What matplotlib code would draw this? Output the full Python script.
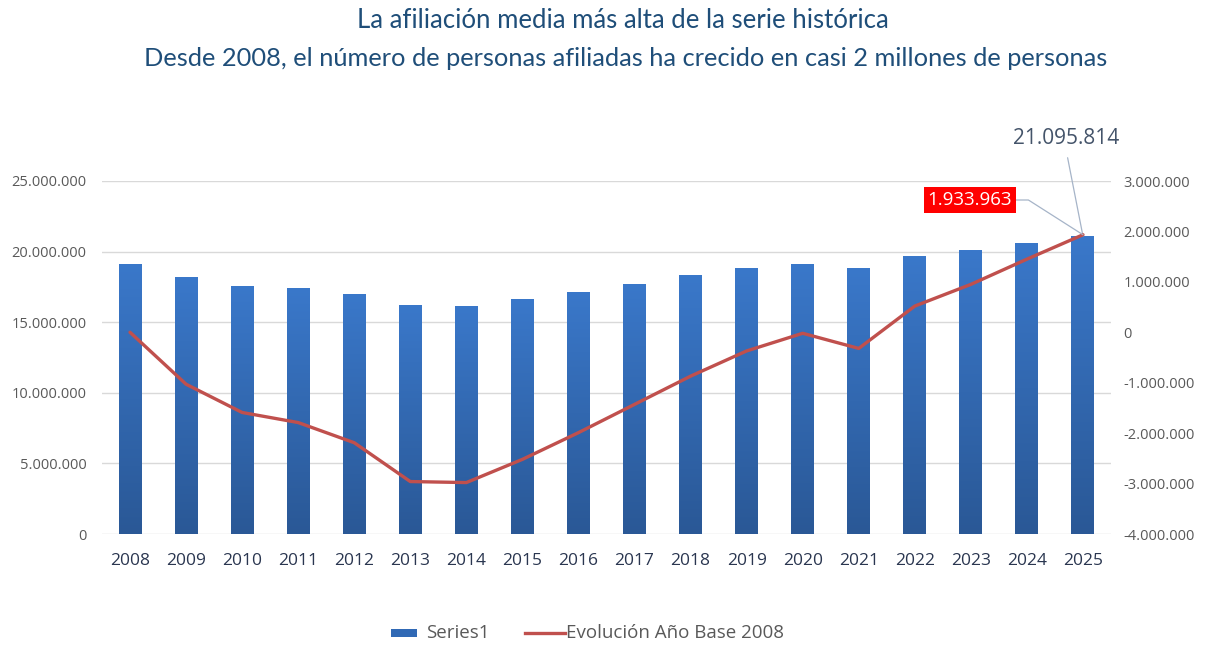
import numpy as np
import matplotlib
matplotlib.use("Agg")
import matplotlib.pyplot as plt
from matplotlib.colors import LinearSegmentedColormap
from matplotlib.ticker import FuncFormatter
from matplotlib.patches import Rectangle
from matplotlib.lines import Line2D

# --- datos ---
years = ["2008", "2009", "2010", "2011", "2012", "2013", "2014", "2015", "2016",
         "2017", "2018", "2019", "2020", "2021", "2022", "2023", "2024", "2025"]
afiliados = [19150000, 18180000, 17550000, 17400000, 16990000, 16195000, 16180000,
             16630000, 17140000, 17720000, 18310000, 18810000, 19150000, 18820000,
             19680000, 20080000, 20630000, 21095814]
evolucion = [0, -1030000, -1590000, -1790000, -2190000, -2960000, -2980000,
             -2520000, -1990000, -1430000, -870000, -370000, -20000, -320000,
             520000, 950000, 1450000, 1933963]
left_ticks = [0, 5000000, 10000000, 15000000, 20000000, 25000000]
right_ticks = [-4000000, -3000000, -2000000, -1000000, 0, 1000000, 2000000, 3000000]

TITLE_1 = "La afiliación media más alta de la serie histórica"
TITLE_2 = "Desde 2008, el número de personas afiliadas ha crecido en casi 2 millones de personas"
LEG_BAR = "Series1"
LEG_LINE = "Evolución Año Base 2008"

# colores
TITLE_C = "#1F4E79"
GRID_C = "#d9d9d9"
TICK_C = "#595959"
YEAR_C = "#2A3650"
LINE_C = "#C0504D"


def miles(v, pos=None):
    return f"{int(v):,}".replace(",", ".")


W, H = 1210, 647
fig = plt.figure(figsize=(W / 100, H / 100), dpi=100)
ax = fig.add_axes([102 / W, 1 - 534 / H, 1009 / W, 353 / H])
ax2 = ax.twinx()

x = np.arange(len(years))
bars = ax.bar(x, afiliados, width=0.41, color="none", zorder=2)

# degradado vertical en las barras
cmap = LinearSegmentedColormap.from_list("azul", ["#2A5896", "#3A78CA"])
grad = np.linspace(0, 1, 256).reshape(-1, 1)
for b in bars:
    x0, y0 = b.get_x(), b.get_y()
    w, h = b.get_width(), b.get_height()
    im = ax.imshow(grad, cmap=cmap, origin="lower", aspect="auto",
                   extent=[x0, x0 + w, y0, y0 + h], zorder=2)
    im.set_clip_path(b)

ax.set_xlim(-0.5, len(years) - 0.5)
ax.set_ylim(0, 25000000)
ax.set_yticks(left_ticks)
ax.yaxis.set_major_formatter(FuncFormatter(miles))
ax.set_xticks(x)
ax.set_xticklabels(years)
ax.grid(axis="y", color=GRID_C, linewidth=1, zorder=0)
ax.set_axisbelow(True)

ax2.plot(x, evolucion, color=LINE_C, linewidth=2.4, solid_capstyle="round",
         solid_joinstyle="round", zorder=3)
ax2.set_ylim(-4000000, 3000000)
ax2.set_yticks(right_ticks)
ax2.yaxis.set_major_formatter(FuncFormatter(miles))

for a in (ax, ax2):
    for s in a.spines.values():
        s.set_visible(False)
    a.tick_params(length=0)

ax.tick_params(axis="y", labelsize=10.5, labelcolor=TICK_C, pad=11)
ax.tick_params(axis="x", labelsize=12.5, labelcolor=YEAR_C, pad=14)
ax2.tick_params(axis="y", labelsize=10.5, labelcolor=TICK_C, pad=9)
for lab in ax.get_yticklabels() + ax2.get_yticklabels() + ax.get_xticklabels():
    lab.set_family("Open Sans")

# etiquetas del último año
ax2.annotate(miles(evolucion[-1]), xy=(x[-1], evolucion[-1]),
             xytext=(970 / W, 1 - 200 / H), textcoords="figure fraction",
             ha="center", va="center", color="white", fontsize=13.5, family="Open Sans",
             bbox=dict(boxstyle="square,pad=0.2", fc="#FF0000", ec="none"),
             arrowprops=dict(arrowstyle="-", color="#A6B4C8", lw=0.9,
                             shrinkA=0, shrinkB=0, relpos=(1, 0.5),
                             connectionstyle="angle,angleA=0,angleB=147.5,rad=0"),
             zorder=5)
ax.annotate(miles(afiliados[-1]), xy=(x[-1], afiliados[-1]),
            xytext=(1066 / W, 1 - 139 / H), textcoords="figure fraction",
            ha="center", va="center", color="#44546A", fontsize=15, family="Open Sans",
            arrowprops=dict(arrowstyle="-", color="#A6B4C8", lw=0.9,
                            shrinkA=4, shrinkB=0, relpos=(0.5, 0)),
            zorder=5)

# títulos
fig.text(623 / W, 1 - 21 / H, TITLE_1, ha="center", va="center",
         color=TITLE_C, fontsize=18.5, family="Lato")
fig.text(626 / W, 1 - 58 / H, TITLE_2, ha="center", va="center",
         color=TITLE_C, fontsize=18.3, family="Lato")

# leyenda (colocada a mano)
ly = 1 - 633 / H
fig.patches.append(Rectangle((391 / W, ly - 4 / H), 26 / W, 8 / H,
                             transform=fig.transFigure, facecolor="#3069B5",
                             edgecolor="none"))
fig.text(426 / W, ly, LEG_BAR, ha="left", va="center", color=TICK_C,
         fontsize=13.5, family="Open Sans")
fig.lines.append(Line2D([525 / W, 565 / W], [ly, ly], transform=fig.transFigure,
                        color=LINE_C, lw=2.4))
fig.text(566 / W, ly, LEG_LINE, ha="left", va="center", color=TICK_C,
         fontsize=13.5, family="Open Sans")

fig.savefig("out.png", dpi=100, facecolor="white")
